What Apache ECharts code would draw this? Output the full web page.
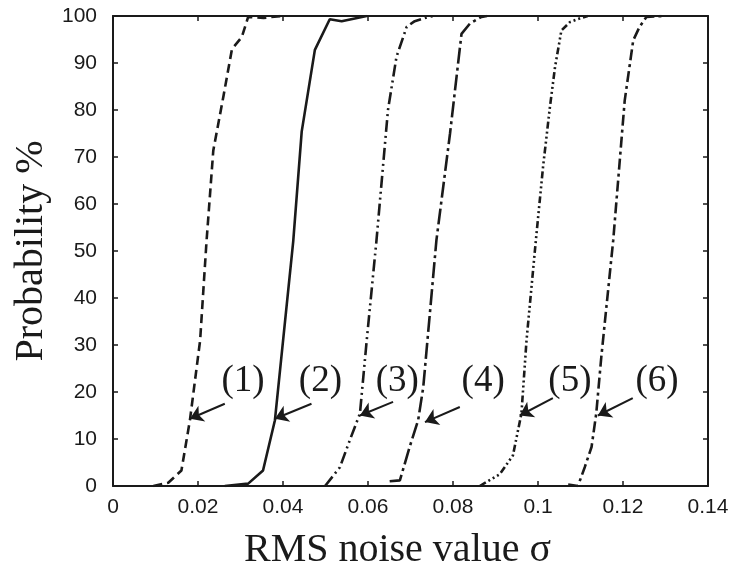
<!DOCTYPE html>
<html>
<head>
<meta charset="utf-8">
<script src="https://cdn.jsdelivr.net/npm/echarts@6/dist/echarts.min.js"></script>
<style>
html,body{margin:0;padding:0;background:#fff;}
#chart{width:742px;height:566px;}
</style>
</head>
<body>
<div id="chart"></div>
<script>
// ---- data (sigma, probability %) ----
const curve1 = [[0.0095,0],[0.013,0.7],[0.0161,3.3],[0.0181,14],[0.0205,31],[0.022,52],[0.0236,71.4],[0.026,83],[0.028,93],[0.0303,95.5],[0.0318,99.8],[0.0354,99.6],[0.0397,100]];
const curve2 = [[0.0263,0],[0.0318,0.5],[0.0353,3.3],[0.0381,14],[0.0424,52],[0.0444,75.4],[0.0475,92.8],[0.051,99.3],[0.0538,98.9],[0.0597,100]];
const curve3 = [[0.0499,0],[0.0534,4],[0.0557,9.7],[0.0581,15.4],[0.0597,31],[0.062,52.3],[0.0647,80],[0.0667,91.3],[0.0691,97.7],[0.071,98.9],[0.0742,99.8],[0.0755,100]];
const curve4 = [[0.0651,1],[0.0675,1.2],[0.0698,8.3],[0.0718,14],[0.073,21],[0.0761,52.3],[0.0793,75],[0.082,96.2],[0.084,98.4],[0.0867,99.8],[0.088,100]];
const curve5 = [[0.0863,0],[0.091,2.5],[0.0941,6.5],[0.0961,15.4],[0.0973,31],[0.0995,52.3],[0.1012,68],[0.1028,80.6],[0.104,89.1],[0.1055,96.9],[0.1075,98.7],[0.1102,99.6],[0.1117,100]];
const curve6 = [[0.1071,0.3],[0.1094,0],[0.111,4],[0.1126,8.3],[0.1137,15.4],[0.1149,27.5],[0.1177,52.3],[0.1204,82],[0.1224,94.8],[0.1239,97.7],[0.1255,99.8],[0.1298,100]];
const curveNames = ['(1)','(2)','(3)','(4)','(5)','(6)'];
// annotation label positions [sigma, prob, text]
const labelPos = [[0.0306,22.2,'(1)'],[0.0488,22.2,'(2)'],[0.0669,22.2,'(3)'],[0.0871,22.2,'(4)'],[0.1075,22.2,'(5)'],[0.128,22.2,'(6)']];
// arrows: [tailSigma, tailProb, tipSigma, tipProb]
const arrows = [[0.0263,17.5,0.0181,14.3],[0.0467,17.5,0.0381,14.3],[0.0659,17.9,0.0581,15.0],[0.0816,16.8,0.0734,13.6],[0.1035,18.7,0.0957,15.0],[0.1223,18.7,0.1141,15.0]];
const xTicks = {min:0, max:0.14, interval:0.02};
const yTicks = {min:0, max:100, interval:10};

const ink = '#1a1a1a';
const dashes = [[9,5], 'solid', [12,4,2,4,2,4], [16,4,3,4], [7,3,2,3,2,3,2,3], [11,4,3,4]];
const curves = [curve1,curve2,curve3,curve4,curve5,curve6];

const chart = echarts.init(document.getElementById('chart'), null, {renderer:'canvas'});
const tickFont = {fontFamily:'"Liberation Sans", Arial, sans-serif', fontSize:21, color:ink};
const titleFont = {fontFamily:'"Liberation Serif", "Times New Roman", serif', fontSize:40, color:ink};

const series = curves.map((c,i)=>({
  type:'line', name:curveNames[i], data:c, showSymbol:false, symbol:'none',
  lineStyle:{color:ink, width:2.6, type:dashes[i]},
  animation:false, silent:true, z:3
}));
series.push({
  type:'scatter', data:labelPos, symbolSize:1, itemStyle:{color:'rgba(0,0,0,0)', opacity:1},
  label:{show:true, position:'inside', formatter:p=>p.data[2], opacity:1,
    fontFamily:titleFont.fontFamily, fontSize:37, color:ink, textBorderWidth:0},
  emphasis:{disabled:true},
  animation:false, silent:true, z:4
});
series.push({
  type:'lines', coordinateSystem:'cartesian2d',
  data: arrows.map(a=>({coords:[[a[0],a[1]],[a[2],a[3]]]})),
  symbol:['none','arrow'], symbolSize:[0,13],
  lineStyle:{color:ink, width:2, opacity:1},
  animation:false, silent:true, z:4
});

chart.setOption({
  backgroundColor:'#fff',
  animation:false,
  grid:{left:113, top:16, width:595, height:470, containLabel:false, outerBoundsMode:'none'},
  xAxis:[{
    type:'value', min:xTicks.min, max:xTicks.max, interval:xTicks.interval, position:'bottom',
    axisLine:{show:true, onZero:false, lineStyle:{color:ink, width:2}},
    axisTick:{show:true, inside:true, length:5, lineStyle:{color:ink, width:1.5}},
    splitLine:{show:false},
    axisLabel:Object.assign({margin:11, formatter:v=>String(parseFloat(v.toFixed(2)))}, tickFont),
    name:'RMS noise value σ', nameLocation:'middle', nameGap:44,
    nameTextStyle:Object.assign({padding:[0,26,0,0]}, titleFont)
  },{
    type:'value', min:xTicks.min, max:xTicks.max, interval:xTicks.interval, position:'top',
    axisLine:{show:true, onZero:false, lineStyle:{color:ink, width:2}},
    axisTick:{show:true, inside:true, length:5, lineStyle:{color:ink, width:1.5}},
    axisLabel:{show:false}, splitLine:{show:false}
  }],
  yAxis:[{
    type:'value', min:yTicks.min, max:yTicks.max, interval:yTicks.interval, position:'left',
    axisLine:{show:true, onZero:false, lineStyle:{color:ink, width:2}},
    axisTick:{show:true, inside:true, length:5, lineStyle:{color:ink, width:1.5}},
    splitLine:{show:false},
    axisLabel:Object.assign({margin:16}, tickFont),
    name:'Probability %', nameLocation:'middle', nameGap:58, nameRotate:90,
    nameTextStyle:titleFont
  },{
    type:'value', min:yTicks.min, max:yTicks.max, interval:yTicks.interval, position:'right',
    axisLine:{show:true, onZero:false, lineStyle:{color:ink, width:2}},
    axisTick:{show:true, inside:true, length:5, lineStyle:{color:ink, width:1.5}},
    axisLabel:{show:false}, splitLine:{show:false}
  }],
  series:series
});
</script>
</body>
</html>
